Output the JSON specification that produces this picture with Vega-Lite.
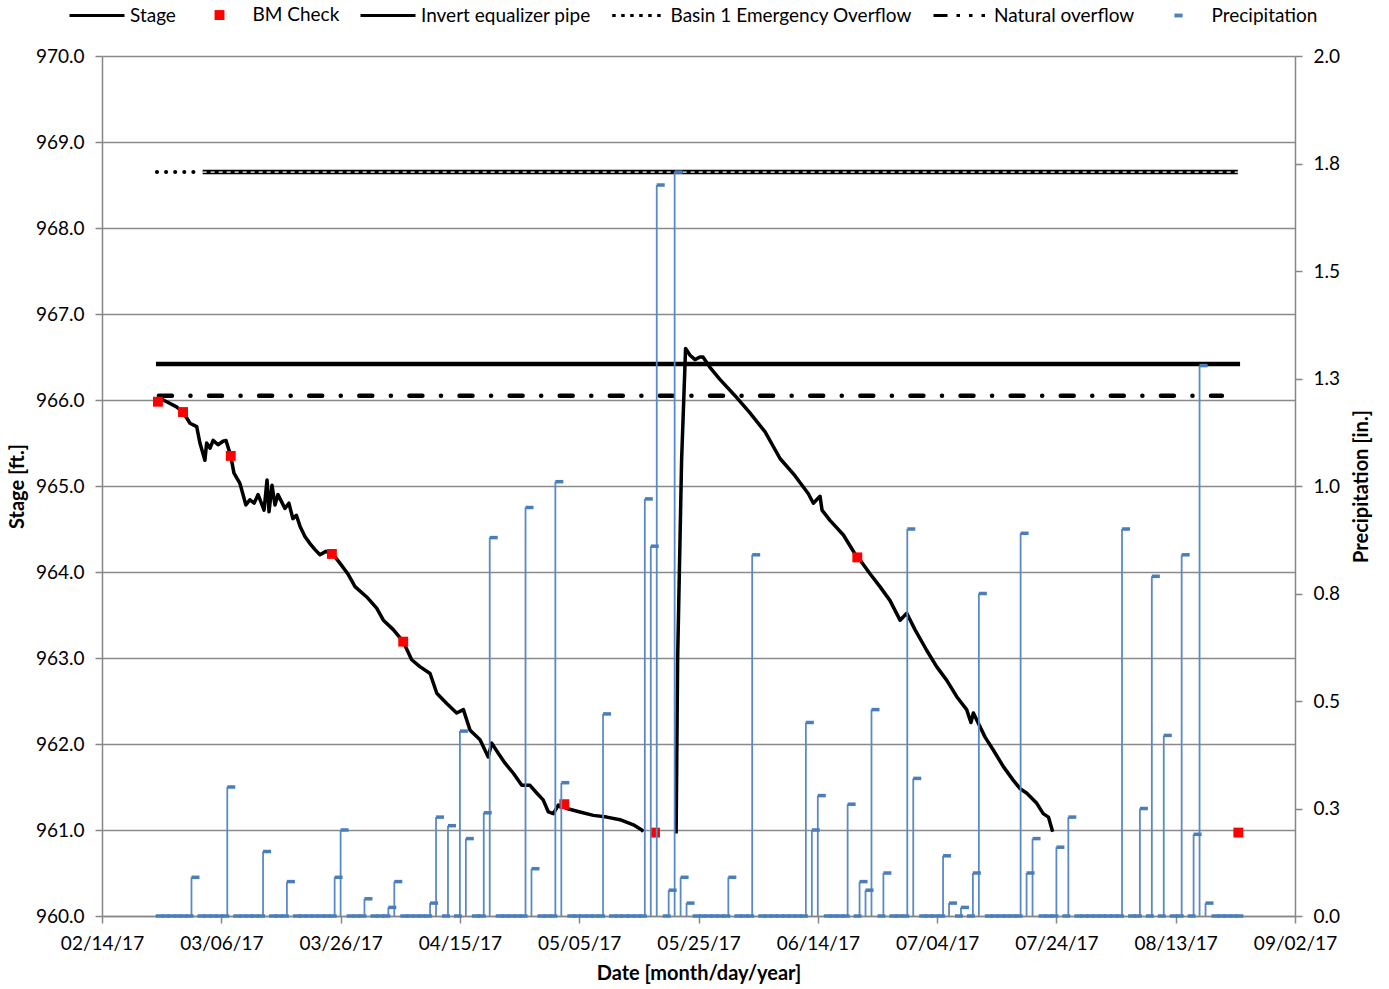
{
  "$schema": "https://vega.github.io/schema/vega-lite/v6.json",
  "width": 1193,
  "height": 860,
  "autosize": {"type": "none"},
  "padding": {"left": 102, "top": 56, "right": 94, "bottom": 73},
  "background": "white",
  "config": {
    "font": "Lato",
    "view": {"stroke": null},
    "axis": {
      "labelFont": "Lato", "labelFontSize": 19, "labelColor": "black",
      "titleFont": "Lato", "titleFontSize": 20, "titleFontWeight": "bold", "titleColor": "black",
      "domainColor": "#868686", "domainWidth": 1.5,
      "tickColor": "#868686", "tickWidth": 1.5, "tickSize": 7,
      "gridColor": "#8a8a8a", "gridWidth": 1.5,
      "labelPadding": 11, "labelFlush": false, "labelOverlap": false
    },
    "legend": {
      "symbolSize": 3025, "symbolStrokeWidth": 3, "symbolFillColor": "transparent", "symbolStrokeColor": "black",
      "labelFont": "Lato", "labelFontSize": 19, "labelColor": "black", "labelLimit": 0, "labelOffset": 4,
      "columnPadding": 14.5, "padding": 0
    }
  },
  "datasets": {
    "stage": [
      {"date": "2017-02-23T17:00Z", "stage": 966.02, "seg": 1},
      {"date": "2017-02-24T20:00Z", "stage": 965.98, "seg": 1},
      {"date": "2017-02-26T12:00Z", "stage": 965.92, "seg": 1},
      {"date": "2017-02-27T14:00Z", "stage": 965.86, "seg": 1},
      {"date": "2017-02-28T18:00Z", "stage": 965.73, "seg": 1},
      {"date": "2017-03-01T21:00Z", "stage": 965.69, "seg": 1},
      {"date": "2017-03-02T10:00Z", "stage": 965.50, "seg": 1},
      {"date": "2017-03-03T06:00Z", "stage": 965.30, "seg": 1},
      {"date": "2017-03-03T13:00Z", "stage": 965.50, "seg": 1},
      {"date": "2017-03-04T03:00Z", "stage": 965.44, "seg": 1},
      {"date": "2017-03-04T15:00Z", "stage": 965.53, "seg": 1},
      {"date": "2017-03-05T11:00Z", "stage": 965.48, "seg": 1},
      {"date": "2017-03-06T07:00Z", "stage": 965.52, "seg": 1},
      {"date": "2017-03-06T19:00Z", "stage": 965.53, "seg": 1},
      {"date": "2017-03-07T14:00Z", "stage": 965.35, "seg": 1},
      {"date": "2017-03-08T03:00Z", "stage": 965.15, "seg": 1},
      {"date": "2017-03-09T03:00Z", "stage": 965.03, "seg": 1},
      {"date": "2017-03-10T03:00Z", "stage": 964.78, "seg": 1},
      {"date": "2017-03-10T19:00Z", "stage": 964.84, "seg": 1},
      {"date": "2017-03-11T12:00Z", "stage": 964.80, "seg": 1},
      {"date": "2017-03-12T04:00Z", "stage": 964.90, "seg": 1},
      {"date": "2017-03-13T04:00Z", "stage": 964.72, "seg": 1},
      {"date": "2017-03-13T16:00Z", "stage": 965.07, "seg": 1},
      {"date": "2017-03-14T00:00Z", "stage": 964.70, "seg": 1},
      {"date": "2017-03-14T12:00Z", "stage": 965.01, "seg": 1},
      {"date": "2017-03-15T00:00Z", "stage": 964.78, "seg": 1},
      {"date": "2017-03-15T12:00Z", "stage": 964.90, "seg": 1},
      {"date": "2017-03-16T16:00Z", "stage": 964.74, "seg": 1},
      {"date": "2017-03-17T08:00Z", "stage": 964.80, "seg": 1},
      {"date": "2017-03-18T00:00Z", "stage": 964.62, "seg": 1},
      {"date": "2017-03-18T14:00Z", "stage": 964.66, "seg": 1},
      {"date": "2017-03-19T05:00Z", "stage": 964.53, "seg": 1},
      {"date": "2017-03-20T01:00Z", "stage": 964.41, "seg": 1},
      {"date": "2017-03-20T21:00Z", "stage": 964.33, "seg": 1},
      {"date": "2017-03-21T17:00Z", "stage": 964.26, "seg": 1},
      {"date": "2017-03-22T13:00Z", "stage": 964.20, "seg": 1},
      {"date": "2017-03-23T13:00Z", "stage": 964.24, "seg": 1},
      {"date": "2017-03-24T19:00Z", "stage": 964.20, "seg": 1},
      {"date": "2017-03-25T22:00Z", "stage": 964.10, "seg": 1},
      {"date": "2017-03-27T07:00Z", "stage": 963.97, "seg": 1},
      {"date": "2017-03-28T10:00Z", "stage": 963.83, "seg": 1},
      {"date": "2017-03-30T09:00Z", "stage": 963.71, "seg": 1},
      {"date": "2017-04-01T01:00Z", "stage": 963.58, "seg": 1},
      {"date": "2017-04-02T04:00Z", "stage": 963.44, "seg": 1},
      {"date": "2017-04-03T20:00Z", "stage": 963.33, "seg": 1},
      {"date": "2017-04-05T12:00Z", "stage": 963.19, "seg": 1},
      {"date": "2017-04-06T22:00Z", "stage": 962.98, "seg": 1},
      {"date": "2017-04-08T07:00Z", "stage": 962.90, "seg": 1},
      {"date": "2017-04-10T00:00Z", "stage": 962.82, "seg": 1},
      {"date": "2017-04-11T03:00Z", "stage": 962.59, "seg": 1},
      {"date": "2017-04-12T19:00Z", "stage": 962.47, "seg": 1},
      {"date": "2017-04-14T11:00Z", "stage": 962.36, "seg": 1},
      {"date": "2017-04-15T14:00Z", "stage": 962.40, "seg": 1},
      {"date": "2017-04-16T17:00Z", "stage": 962.16, "seg": 1},
      {"date": "2017-04-18T09:00Z", "stage": 962.05, "seg": 1},
      {"date": "2017-04-19T18:00Z", "stage": 961.85, "seg": 1},
      {"date": "2017-04-20T08:00Z", "stage": 962.01, "seg": 1},
      {"date": "2017-04-21T11:00Z", "stage": 961.89, "seg": 1},
      {"date": "2017-04-22T13:00Z", "stage": 961.78, "seg": 1},
      {"date": "2017-04-23T23:00Z", "stage": 961.66, "seg": 1},
      {"date": "2017-04-25T09:00Z", "stage": 961.52, "seg": 1},
      {"date": "2017-04-26T18:00Z", "stage": 961.52, "seg": 1},
      {"date": "2017-04-27T21:00Z", "stage": 961.43, "seg": 1},
      {"date": "2017-04-28T23:00Z", "stage": 961.35, "seg": 1},
      {"date": "2017-04-29T20:00Z", "stage": 961.21, "seg": 1},
      {"date": "2017-04-30T16:00Z", "stage": 961.19, "seg": 1},
      {"date": "2017-05-01T12:00Z", "stage": 961.29, "seg": 1},
      {"date": "2017-05-02T22:00Z", "stage": 961.25, "seg": 1},
      {"date": "2017-05-05T03:00Z", "stage": 961.21, "seg": 1},
      {"date": "2017-05-07T09:00Z", "stage": 961.17, "seg": 1},
      {"date": "2017-05-09T15:00Z", "stage": 961.15, "seg": 1},
      {"date": "2017-05-11T20:00Z", "stage": 961.12, "seg": 1},
      {"date": "2017-05-14T02:00Z", "stage": 961.06, "seg": 1},
      {"date": "2017-05-15T12:00Z", "stage": 961.00, "seg": 1},
      {"date": "2017-05-15T18:00Z", "stage": 960.98, "seg": 1},
      {"date": "2017-05-21T06:00Z", "stage": 960.96, "seg": 2},
      {"date": "2017-05-21T12:00Z", "stage": 962.98, "seg": 2},
      {"date": "2017-05-22T04:00Z", "stage": 965.30, "seg": 2},
      {"date": "2017-05-22T20:00Z", "stage": 966.60, "seg": 2},
      {"date": "2017-05-23T14:00Z", "stage": 966.52, "seg": 2},
      {"date": "2017-05-24T10:00Z", "stage": 966.47, "seg": 2},
      {"date": "2017-05-25T06:00Z", "stage": 966.50, "seg": 2},
      {"date": "2017-05-25T18:00Z", "stage": 966.50, "seg": 2},
      {"date": "2017-05-26T22:00Z", "stage": 966.38, "seg": 2},
      {"date": "2017-05-28T14:00Z", "stage": 966.24, "seg": 2},
      {"date": "2017-05-31T03:00Z", "stage": 966.05, "seg": 2},
      {"date": "2017-06-02T15:00Z", "stage": 965.85, "seg": 2},
      {"date": "2017-06-05T04:00Z", "stage": 965.63, "seg": 2},
      {"date": "2017-06-07T16:00Z", "stage": 965.32, "seg": 2},
      {"date": "2017-06-10T04:00Z", "stage": 965.12, "seg": 2},
      {"date": "2017-06-12T10:00Z", "stage": 964.91, "seg": 2},
      {"date": "2017-06-13T06:00Z", "stage": 964.80, "seg": 2},
      {"date": "2017-06-14T09:00Z", "stage": 964.88, "seg": 2},
      {"date": "2017-06-14T17:00Z", "stage": 964.72, "seg": 2},
      {"date": "2017-06-16T01:00Z", "stage": 964.60, "seg": 2},
      {"date": "2017-06-18T07:00Z", "stage": 964.43, "seg": 2},
      {"date": "2017-06-20T12:00Z", "stage": 964.18, "seg": 2},
      {"date": "2017-06-21T02:00Z", "stage": 964.14, "seg": 2},
      {"date": "2017-06-22T18:00Z", "stage": 963.98, "seg": 2},
      {"date": "2017-06-24T10:00Z", "stage": 963.83, "seg": 2},
      {"date": "2017-06-26T02:00Z", "stage": 963.67, "seg": 2},
      {"date": "2017-06-27T19:00Z", "stage": 963.44, "seg": 2},
      {"date": "2017-06-28T22:00Z", "stage": 963.52, "seg": 2},
      {"date": "2017-06-30T07:00Z", "stage": 963.33, "seg": 2},
      {"date": "2017-07-02T06:00Z", "stage": 963.09, "seg": 2},
      {"date": "2017-07-03T22:00Z", "stage": 962.90, "seg": 2},
      {"date": "2017-07-05T15:00Z", "stage": 962.74, "seg": 2},
      {"date": "2017-07-07T07:00Z", "stage": 962.55, "seg": 2},
      {"date": "2017-07-08T23:00Z", "stage": 962.40, "seg": 2},
      {"date": "2017-07-09T16:00Z", "stage": 962.25, "seg": 2},
      {"date": "2017-07-10T02:00Z", "stage": 962.36, "seg": 2},
      {"date": "2017-07-12T01:00Z", "stage": 962.08, "seg": 2},
      {"date": "2017-07-13T10:00Z", "stage": 961.93, "seg": 2},
      {"date": "2017-07-15T02:00Z", "stage": 961.74, "seg": 2},
      {"date": "2017-07-16T18:00Z", "stage": 961.58, "seg": 2},
      {"date": "2017-07-17T22:00Z", "stage": 961.48, "seg": 2},
      {"date": "2017-07-19T00:00Z", "stage": 961.43, "seg": 2},
      {"date": "2017-07-20T17:00Z", "stage": 961.31, "seg": 2},
      {"date": "2017-07-21T19:00Z", "stage": 961.19, "seg": 2},
      {"date": "2017-07-22T16:00Z", "stage": 961.15, "seg": 2},
      {"date": "2017-07-23T09:00Z", "stage": 960.98, "seg": 2}
    ],
    "bm": [
      {"date": "2017-02-23T09:00Z", "stage": 965.98, "series": "BM Check"},
      {"date": "2017-02-27T14:00Z", "stage": 965.86, "series": "BM Check"},
      {"date": "2017-03-07T14:00Z", "stage": 965.35, "series": "BM Check"},
      {"date": "2017-03-24T13:00Z", "stage": 964.21, "series": "BM Check"},
      {"date": "2017-04-05T12:00Z", "stage": 963.19, "series": "BM Check"},
      {"date": "2017-05-02T12:00Z", "stage": 961.30, "series": "BM Check"},
      {"date": "2017-05-17T17:00Z", "stage": 960.97, "series": "BM Check"},
      {"date": "2017-06-20T15:00Z", "stage": 964.17, "series": "BM Check"},
      {"date": "2017-08-23T12:00Z", "stage": 960.97, "series": "BM Check"}
    ],
    "emdots": [
      {"date": "2017-02-23T05:00Z", "stage": 968.65},
      {"date": "2017-03-01T15:00Z", "stage": 968.65}
    ],
    "emline": [
      {"date": "2017-03-02T21:00Z", "stage": 968.65},
      {"date": "2017-08-23T10:00Z", "stage": 968.65}
    ],
    "invert": [
      {"date": "2017-02-23T01:00Z", "stage": 966.42},
      {"date": "2017-08-23T19:00Z", "stage": 966.42}
    ],
    "natural": [
      {"date": "2017-02-23T13:00Z", "stage": 966.05},
      {"date": "2017-08-20T18:00Z", "stage": 966.05}
    ],
    "precip": [
      {"date": "2017-02-23", "p": 0}, {"date": "2017-02-24", "p": 0}, {"date": "2017-02-25", "p": 0},
      {"date": "2017-02-26", "p": 0}, {"date": "2017-02-27", "p": 0}, {"date": "2017-02-28", "p": 0},
      {"date": "2017-03-01", "p": 0.09}, {"date": "2017-03-02", "p": 0}, {"date": "2017-03-03", "p": 0},
      {"date": "2017-03-04", "p": 0}, {"date": "2017-03-05", "p": 0}, {"date": "2017-03-06", "p": 0},
      {"date": "2017-03-07", "p": 0.30}, {"date": "2017-03-08", "p": 0}, {"date": "2017-03-09", "p": 0},
      {"date": "2017-03-10", "p": 0}, {"date": "2017-03-11", "p": 0}, {"date": "2017-03-12", "p": 0},
      {"date": "2017-03-13", "p": 0.15}, {"date": "2017-03-14", "p": 0}, {"date": "2017-03-15", "p": 0},
      {"date": "2017-03-16", "p": 0}, {"date": "2017-03-17", "p": 0.08}, {"date": "2017-03-18", "p": 0},
      {"date": "2017-03-19", "p": 0}, {"date": "2017-03-20", "p": 0}, {"date": "2017-03-21", "p": 0},
      {"date": "2017-03-22", "p": 0}, {"date": "2017-03-23", "p": 0}, {"date": "2017-03-24", "p": 0},
      {"date": "2017-03-25", "p": 0.09}, {"date": "2017-03-26", "p": 0.20}, {"date": "2017-03-27", "p": 0},
      {"date": "2017-03-28", "p": 0}, {"date": "2017-03-29", "p": 0}, {"date": "2017-03-30", "p": 0.04},
      {"date": "2017-03-31", "p": 0},
      {"date": "2017-04-01", "p": 0}, {"date": "2017-04-02", "p": 0}, {"date": "2017-04-03", "p": 0.02},
      {"date": "2017-04-04", "p": 0.08}, {"date": "2017-04-05", "p": 0}, {"date": "2017-04-06", "p": 0},
      {"date": "2017-04-07", "p": 0}, {"date": "2017-04-08", "p": 0}, {"date": "2017-04-09", "p": 0},
      {"date": "2017-04-10", "p": 0.03}, {"date": "2017-04-11", "p": 0.23}, {"date": "2017-04-12", "p": 0},
      {"date": "2017-04-13", "p": 0.21}, {"date": "2017-04-14", "p": 0}, {"date": "2017-04-15", "p": 0.43},
      {"date": "2017-04-16", "p": 0.18}, {"date": "2017-04-17", "p": 0}, {"date": "2017-04-18", "p": 0},
      {"date": "2017-04-19", "p": 0.24}, {"date": "2017-04-20", "p": 0.88}, {"date": "2017-04-21", "p": 0},
      {"date": "2017-04-22", "p": 0}, {"date": "2017-04-23", "p": 0}, {"date": "2017-04-24", "p": 0},
      {"date": "2017-04-25", "p": 0}, {"date": "2017-04-26", "p": 0.95}, {"date": "2017-04-27", "p": 0.11},
      {"date": "2017-04-28", "p": 0}, {"date": "2017-04-29", "p": 0}, {"date": "2017-04-30", "p": 0},
      {"date": "2017-05-01", "p": 1.01}, {"date": "2017-05-02", "p": 0.31}, {"date": "2017-05-03", "p": 0},
      {"date": "2017-05-04", "p": 0}, {"date": "2017-05-05", "p": 0}, {"date": "2017-05-06", "p": 0},
      {"date": "2017-05-07", "p": 0}, {"date": "2017-05-08", "p": 0}, {"date": "2017-05-09", "p": 0.47},
      {"date": "2017-05-10", "p": 0}, {"date": "2017-05-11", "p": 0}, {"date": "2017-05-12", "p": 0},
      {"date": "2017-05-13", "p": 0}, {"date": "2017-05-14", "p": 0}, {"date": "2017-05-15", "p": 0},
      {"date": "2017-05-16", "p": 0.97}, {"date": "2017-05-17", "p": 0.86}, {"date": "2017-05-18", "p": 1.70},
      {"date": "2017-05-19", "p": 0}, {"date": "2017-05-20", "p": 0.06}, {"date": "2017-05-21", "p": 1.73},
      {"date": "2017-05-22", "p": 0.09}, {"date": "2017-05-23", "p": 0.03}, {"date": "2017-05-24", "p": 0},
      {"date": "2017-05-25", "p": 0}, {"date": "2017-05-26", "p": 0}, {"date": "2017-05-27", "p": 0},
      {"date": "2017-05-28", "p": 0}, {"date": "2017-05-29", "p": 0}, {"date": "2017-05-30", "p": 0.09},
      {"date": "2017-05-31", "p": 0},
      {"date": "2017-06-01", "p": 0}, {"date": "2017-06-02", "p": 0}, {"date": "2017-06-03", "p": 0.84},
      {"date": "2017-06-04", "p": 0}, {"date": "2017-06-05", "p": 0}, {"date": "2017-06-06", "p": 0},
      {"date": "2017-06-07", "p": 0}, {"date": "2017-06-08", "p": 0}, {"date": "2017-06-09", "p": 0},
      {"date": "2017-06-10", "p": 0}, {"date": "2017-06-11", "p": 0}, {"date": "2017-06-12", "p": 0.45},
      {"date": "2017-06-13", "p": 0.20}, {"date": "2017-06-14", "p": 0.28}, {"date": "2017-06-15", "p": 0},
      {"date": "2017-06-16", "p": 0}, {"date": "2017-06-17", "p": 0}, {"date": "2017-06-18", "p": 0},
      {"date": "2017-06-19", "p": 0.26}, {"date": "2017-06-20", "p": 0}, {"date": "2017-06-21", "p": 0.08},
      {"date": "2017-06-22", "p": 0.06}, {"date": "2017-06-23", "p": 0.48}, {"date": "2017-06-24", "p": 0},
      {"date": "2017-06-25", "p": 0.10}, {"date": "2017-06-26", "p": 0}, {"date": "2017-06-27", "p": 0},
      {"date": "2017-06-28", "p": 0}, {"date": "2017-06-29", "p": 0.90}, {"date": "2017-06-30", "p": 0.32},
      {"date": "2017-07-01", "p": 0}, {"date": "2017-07-02", "p": 0}, {"date": "2017-07-03", "p": 0},
      {"date": "2017-07-04", "p": 0}, {"date": "2017-07-05", "p": 0.14}, {"date": "2017-07-06", "p": 0.03},
      {"date": "2017-07-07", "p": 0}, {"date": "2017-07-08", "p": 0.02}, {"date": "2017-07-09", "p": 0},
      {"date": "2017-07-10", "p": 0.10}, {"date": "2017-07-11", "p": 0.75}, {"date": "2017-07-12", "p": 0},
      {"date": "2017-07-13", "p": 0}, {"date": "2017-07-14", "p": 0}, {"date": "2017-07-15", "p": 0},
      {"date": "2017-07-16", "p": 0}, {"date": "2017-07-17", "p": 0}, {"date": "2017-07-18", "p": 0.89},
      {"date": "2017-07-19", "p": 0.10}, {"date": "2017-07-20", "p": 0.18}, {"date": "2017-07-21", "p": 0},
      {"date": "2017-07-22", "p": 0}, {"date": "2017-07-23", "p": 0}, {"date": "2017-07-24", "p": 0.16},
      {"date": "2017-07-25", "p": 0}, {"date": "2017-07-26", "p": 0.23}, {"date": "2017-07-27", "p": 0},
      {"date": "2017-07-28", "p": 0}, {"date": "2017-07-29", "p": 0}, {"date": "2017-07-30", "p": 0},
      {"date": "2017-07-31", "p": 0},
      {"date": "2017-08-01", "p": 0}, {"date": "2017-08-02", "p": 0}, {"date": "2017-08-03", "p": 0},
      {"date": "2017-08-04", "p": 0.90}, {"date": "2017-08-05", "p": 0}, {"date": "2017-08-06", "p": 0},
      {"date": "2017-08-07", "p": 0.25}, {"date": "2017-08-08", "p": 0}, {"date": "2017-08-09", "p": 0.79},
      {"date": "2017-08-10", "p": 0}, {"date": "2017-08-11", "p": 0.42}, {"date": "2017-08-12", "p": 0},
      {"date": "2017-08-13", "p": 0}, {"date": "2017-08-14", "p": 0.84}, {"date": "2017-08-15", "p": 0},
      {"date": "2017-08-16", "p": 0.19}, {"date": "2017-08-17", "p": 1.28}, {"date": "2017-08-18", "p": 0.03},
      {"date": "2017-08-19", "p": 0}, {"date": "2017-08-20", "p": 0}, {"date": "2017-08-21", "p": 0},
      {"date": "2017-08-22", "p": 0}, {"date": "2017-08-23", "p": 0}
    ]
  },
  "encoding": {
    "x": {
      "field": "date", "type": "temporal",
      "scale": {"type": "utc", "domain": [{"year": 2017, "month": 2, "date": 14, "utc": true}, {"year": 2017, "month": 9, "date": 2, "utc": true}]},
      "axis": {
        "title": "Date [month/day/year]", "format": "%m/%d/%y", "grid": false, "titlePadding": 10,
        "values": [
          {"year": 2017, "month": 2, "date": 14, "utc": true},
          {"year": 2017, "month": 3, "date": 6, "utc": true},
          {"year": 2017, "month": 3, "date": 26, "utc": true},
          {"year": 2017, "month": 4, "date": 15, "utc": true},
          {"year": 2017, "month": 5, "date": 5, "utc": true},
          {"year": 2017, "month": 5, "date": 25, "utc": true},
          {"year": 2017, "month": 6, "date": 14, "utc": true},
          {"year": 2017, "month": 7, "date": 4, "utc": true},
          {"year": 2017, "month": 7, "date": 24, "utc": true},
          {"year": 2017, "month": 8, "date": 13, "utc": true},
          {"year": 2017, "month": 9, "date": 2, "utc": true}
        ]
      }
    }
  },
  "layer": [
    {
      "encoding": {
        "y": {
          "field": "stage", "type": "quantitative",
          "scale": {"domain": [960, 970], "nice": false, "zero": false},
          "axis": {"orient": "left", "title": "Stage [ft.]", "format": ".1f", "grid": true, "titlePadding": 8,
                   "values": [960, 961, 962, 963, 964, 965, 966, 967, 968, 969, 970]}
        }
      },
      "layer": [
        {"data": {"name": "emdots"}, "mark": {"type": "line", "color": "black", "strokeWidth": 4, "strokeDash": [0.1, 9], "strokeCap": "round"}, "encoding": {}},
        {"data": {"name": "emline"}, "mark": {"type": "line", "color": "black", "strokeWidth": 4.5}, "encoding": {}},
        {"data": {"name": "emline"}, "mark": {"type": "line", "color": "white", "strokeWidth": 1.1, "strokeDash": [4, 4]}, "encoding": {}},
        {"data": {"name": "invert"}, "mark": {"type": "line", "color": "black", "strokeWidth": 4.5}, "encoding": {}},
        {"data": {"name": "natural"}, "mark": {"type": "line", "color": "black", "strokeWidth": 4.5, "strokeDash": [13, 18.5, 0.1, 18.5], "strokeCap": "round"}, "encoding": {}},
        {"data": {"name": "stage"}, "mark": {"type": "line", "color": "black", "strokeWidth": 3.5, "strokeJoin": "round"}, "encoding": {"detail": {"field": "seg", "type": "nominal"}}},
        {
          "data": {"name": "bm"},
          "mark": {"type": "point", "size": 3025, "opacity": 1, "filled": true},
          "encoding": {
            "shape": {
              "field": "series", "type": "nominal",
              "scale": {"domain": ["Stage", "BM Check", "Invert equalizer pipe", "Basin 1 Emergency Overflow", "Natural overflow", "Precipitation"],
                        "range": ["M-1,0H1", "M-0.18,-0.18H0.18V0.18H-0.18Z", "M-1,0H1", "M-0.92,0H0.92", "M-1,0H1", "M-0.15,-0.07H0.15V0.07H-0.15Z"]},
              "legend": {"title": null, "orient": "none", "legendX": -34, "legendY": -70, "direction": "horizontal"}
            },
            "fill": {
              "field": "series", "type": "nominal",
              "scale": {"domain": ["Stage", "BM Check", "Invert equalizer pipe", "Basin 1 Emergency Overflow", "Natural overflow", "Precipitation"],
                        "range": ["transparent", "#FF0000", "transparent", "transparent", "transparent", "#4F81BD"]},
              "legend": {"title": null, "orient": "none", "legendX": -34, "legendY": -70, "direction": "horizontal"}
            },
            "stroke": {
              "field": "series", "type": "nominal",
              "scale": {"domain": ["Stage", "BM Check", "Invert equalizer pipe", "Basin 1 Emergency Overflow", "Natural overflow", "Precipitation"],
                        "range": ["black", "transparent", "black", "black", "black", "transparent"]},
              "legend": {"title": null, "orient": "none", "legendX": -34, "legendY": -70, "direction": "horizontal"}
            },
            "strokeDash": {
              "field": "series", "type": "nominal",
              "scale": {"domain": ["Stage", "BM Check", "Invert equalizer pipe", "Basin 1 Emergency Overflow", "Natural overflow", "Precipitation"],
                        "range": [[1, 0], [1, 0], [1, 0], [3.5, 5.5], [14, 9, 3.5, 9, 3.5, 9, 3.5, 40], [1, 0]]},
              "legend": {"title": null, "orient": "none", "legendX": -34, "legendY": -70, "direction": "horizontal"}
            }
          }
        }
      ]
    },
    {
      "encoding": {
        "y": {
          "field": "p", "type": "quantitative",
          "scale": {"domain": [0, 2], "nice": false, "zero": true},
          "axis": {"orient": "right", "title": "Precipitation [in.]", "format": ".1f", "grid": false, "titleAngle": 270, "titleBaseline": "top", "titlePadding": 12,
                   "values": [0, 0.25, 0.5, 0.75, 1, 1.25, 1.5, 1.75, 2]}
        }
      },
      "layer": [
        {"data": {"name": "precip"}, "transform": [{"filter": "datum.p > 0"}], "mark": {"type": "rule", "color": "#5A8AC6", "strokeWidth": 1.8}, "encoding": {"y2": {"datum": 0}}},
        {"data": {"name": "precip"}, "mark": {"type": "tick", "orient": "horizontal", "size": 8, "thickness": 3.5, "xOffset": 4, "color": "#4A7EBB", "opacity": 1}, "encoding": {}}
      ]
    }
  ],
  "resolve": {"scale": {"y": "independent"}}
}
